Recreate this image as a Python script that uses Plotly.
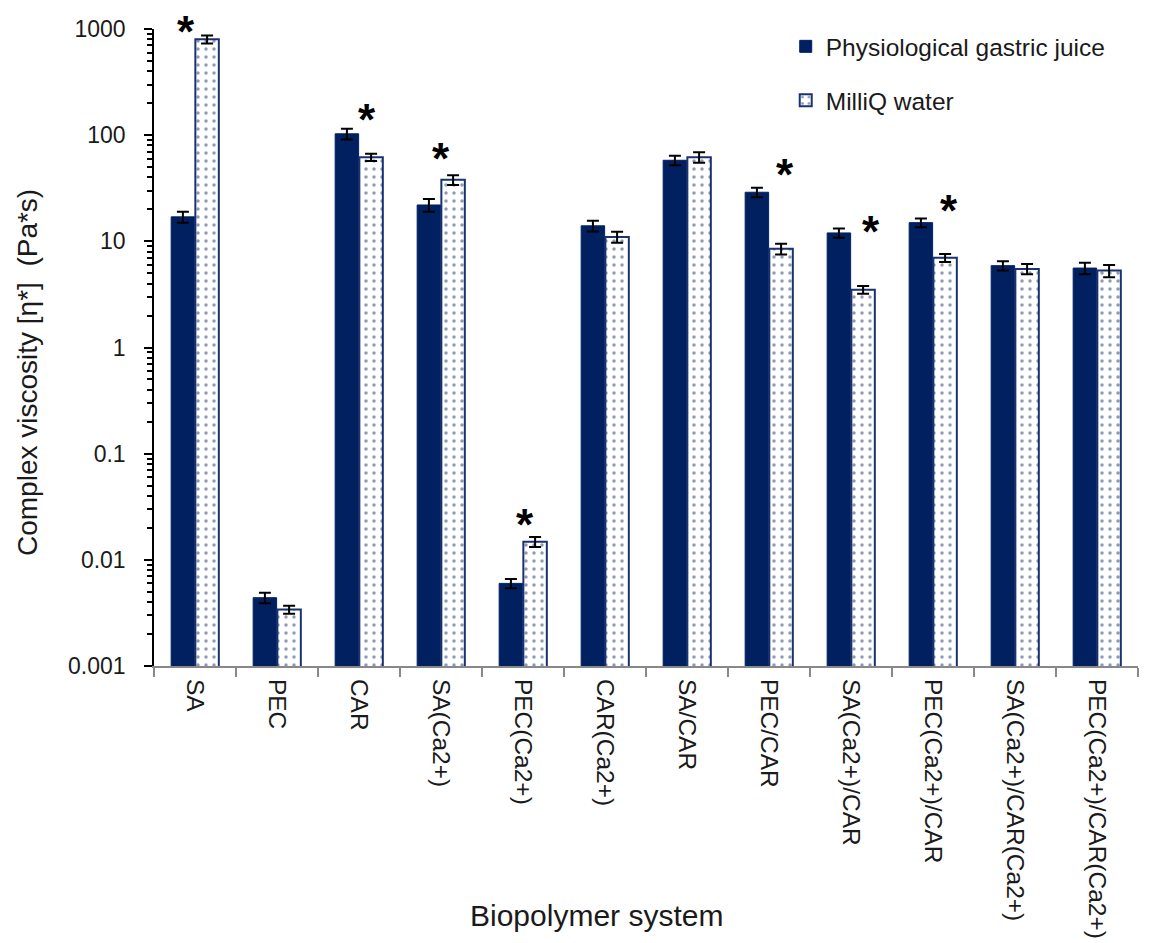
import math
import plotly.graph_objects as go

categories = ["SA", "PEC", "CAR", "SA(Ca2+)", "PEC(Ca2+)", "CAR(Ca2+)", "SA/CAR", "PEC/CAR",
              "SA(Ca2+)/CAR", "PEC(Ca2+)/CAR", "SA(Ca2+)/CAR(Ca2+)", "PEC(Ca2+)/CAR(Ca2+)"]
gastric = [17, 0.0044, 103, 22, 0.006, 14, 58, 29, 12, 15, 5.9, 5.6]
gastric_err = [2, 0.0005, 12, 3, 0.0006, 1.6, 6, 3, 1.2, 1.4, 0.6, 0.7]
water = [800, 0.0034, 62, 38, 0.0148, 11, 62, 8.5, 3.5, 7, 5.5, 5.3]
water_err = [70, 0.0003, 5, 4, 0.0016, 1.3, 7, 1, 0.3, 0.6, 0.6, 0.7]
significant = [True, False, True, True, True, False, False, True, True, True, False, False]

# star placement style (pixel offsets)
star_xshift = [-9, 0, 8, 0, 2, 0, 0, 16, 20, 16, 0, 0]
star_yshift = [8, 0, 13, 21, 17, 0, 0, 17, 1, 12, 0, 0]

NAVY = "#002060"
PAT = "#1a3370"
FONT = "Liberation Sans, Arial, sans-serif"
TXT = "#1a1a1a"

fig = go.Figure()
fig.add_trace(go.Bar(
    x=categories, y=gastric, name="Physiological gastric juice", legendgroup="a",
    marker=dict(color=NAVY, line=dict(color=NAVY, width=1)),
    error_y=dict(type="data", array=gastric_err, color="black", thickness=2, width=6),
))
fig.add_trace(go.Bar(
    x=categories, y=water, name="MilliQ water", legendgroup="b",
    marker=dict(color="white", line=dict(color=PAT, width=2),
                pattern=dict(shape=".", fgcolor=PAT, bgcolor="white", size=8, solidity=0.15)),
    error_y=dict(type="data", array=water_err, color="black", thickness=2, width=6),
))

for i, c in enumerate(categories):
    if significant[i]:
        top = max(gastric[i] + gastric_err[i], water[i] + water_err[i])
        fig.add_annotation(x=c, y=math.log10(top), text="<b>*</b>", showarrow=False,
                           xshift=star_xshift[i], yshift=star_yshift[i] - 4,
                           yanchor="middle", font=dict(size=44, color="black", family=FONT))

fig.add_annotation(text="Biopolymer system", xref="paper", yref="paper", x=0.450, y=-0.391,
                   xanchor="center", yanchor="middle", showarrow=False,
                   font=dict(size=30, color=TXT, family=FONT))
fig.add_annotation(text="Complex viscosity [η*]  (Pa*s)", xref="paper", yref="paper",
                   x=-0.128, y=0.46, xanchor="center", yanchor="middle", textangle=-90,
                   showarrow=False, font=dict(size=28, color=TXT, family=FONT))

fig.update_layout(
    width=1150, height=943,
    margin=dict(l=146, r=20, t=21, b=285, autoexpand=False),
    plot_bgcolor="white", paper_bgcolor="white",
    barmode="group", bargap=0.41, bargroupgap=0.03,
    font=dict(family=FONT, size=23, color=TXT),
    legend=dict(x=0.642, y=1.008, xanchor="left", yanchor="top",
                font=dict(size=24.5, color=TXT), traceorder="grouped",
                tracegroupgap=19, bgcolor="rgba(0,0,0,0)"),
    showlegend=True,
)
fig.update_yaxes(
    type="log", range=[-3, 3], dtick=1, tickformat="~g",
    showline=True, linecolor="black", linewidth=1.5,
    ticks="outside", ticklen=8, tickcolor="black", tickwidth=1.5,
    ticklabelstandoff=14, automargin=False,
    showgrid=False, zeroline=False,
    minor=dict(ticks="outside", ticklen=5, tickcolor="black", showgrid=False),
    tickfont=dict(size=23, color=TXT),
)
fig.update_xaxes(
    showline=True, linecolor="#888888", linewidth=2,
    ticks="outside", tickson="boundaries", ticklen=9, tickcolor="#888888", tickwidth=2,
    tickangle=90, showgrid=False, automargin=False, ticklabelstandoff=6,
    tickfont=dict(size=24.5, color=TXT),
)
fig.write_html("out.html")
